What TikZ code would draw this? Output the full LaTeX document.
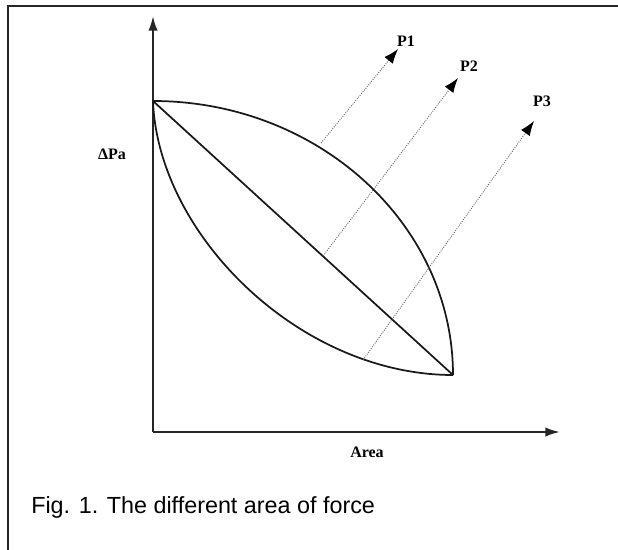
\documentclass[tikz,border=0pt]{standalone}
\usepackage{fontspec}
\setmainfont{Liberation Serif}
\newfontfamily\capfont{Liberation Sans}
\usetikzlibrary{arrows.meta}
\begin{document}
\begin{tikzpicture}[x=0.75pt,y=-0.75pt,
  axis/.style={line width=1.5pt, draw=black!85, -{Latex[length=11pt,width=7pt]}},
  curve/.style={line width=1.3pt, draw=black!90},
  force/.style={densely dotted, line width=0.7pt, draw=black!60, -{Latex[length=11pt,width=8pt,fill=black,color=black]}},
  lbl/.style={font=\bfseries\fontsize{12}{14}\selectfont, inner sep=0pt}]
\useasboundingbox (0,0) rectangle (618,550);
\fill[white] (0,0) rectangle (618,550);
\draw[line width=1.6pt, black!85] (618,6) -- (8,6) -- (8,550);
% axes
\coordinate (O) at (153,432);
\coordinate (Ytop) at (153,16);
\coordinate (Xend) at (560,432);
\draw[axis] (O) -- (Ytop);
\draw[axis] (O) -- (Xend);
% curves
\coordinate (A) at (153,101);
\coordinate (B) at (453,375);
\draw[curve] (A) .. controls (318,101) and (453,224) .. (B);
\draw[curve] (A) .. controls (158,235) and (300,375) .. (B);
\draw[curve] (A) -- (B);
% force arrows
\coordinate (s1) at (321,143);
\coordinate (e1) at (398,49);
\coordinate (s2) at (323,256);
\coordinate (e2) at (458,78);
\coordinate (s3) at (363,360);
\coordinate (e3) at (534,121);
\draw[force] (s1) -- (e1);
\draw[force] (s2) -- (e2);
\draw[force] (s3) -- (e3);
\node[lbl] (p1) at (406,41) {P1};
\node[lbl] (p2) at (469,66) {P2};
\node[lbl] (p3) at (542,101) {P3};
\node[lbl] (ylab) at (112,154) {ΔPa};
\node[lbl] (xlab) at (367,452) {Area};
\node[font=\capfont\fontsize{17.5}{21}\selectfont, inner sep=0pt, anchor=west] (cap) at (31,507) {Fig. 1. The different area of force};
\end{tikzpicture}
\end{document}
